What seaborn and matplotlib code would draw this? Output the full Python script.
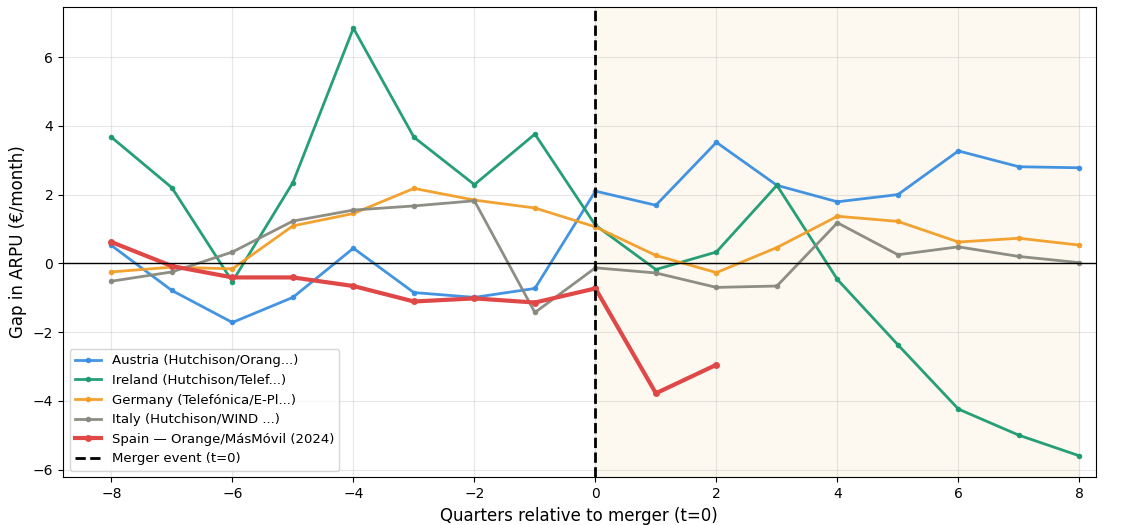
import matplotlib
matplotlib.use("Agg")
import matplotlib.pyplot as plt
import seaborn as sns
import pandas as pd

quarters = list(range(-8, 9))
austria = [0.52, -0.79, -1.72, -0.99, 0.44, -0.85, -0.99, -0.73, 2.1, 1.69, 3.52, 2.27, 1.79, 2.0, 3.27, 2.81, 2.78]
ireland = [3.67, 2.2, -0.53, 2.35, 6.84, 3.67, 2.29, 3.76, 1.11, -0.18, 0.33, 2.27, -0.47, -2.37, -4.24, -5.0, -5.6]
germany = [-0.25, -0.11, -0.16, 1.09, 1.45, 2.18, 1.84, 1.61, 1.06, 0.23, -0.27, 0.46, 1.37, 1.22, 0.62, 0.73, 0.53]
italy = [-0.52, -0.25, 0.33, 1.23, 1.55, 1.67, 1.82, -1.43, -0.13, -0.28, -0.7, -0.66, 1.18, 0.25, 0.48, 0.2, 0.02]
spain_q = list(range(-8, 3))
spain = [0.62, -0.08, -0.41, -0.41, -0.66, -1.11, -1.02, -1.14, -0.73, -3.78, -2.95]

labels = ["Austria (Hutchison/Orang...)", "Ireland (Hutchison/Telef...)",
          "Germany (Telefónica/E-Pl...)", "Italy (Hutchison/WIND ...)"]
colors = ["#3a8ee0", "#1a9a70", "#f29d26", "#88887f"]

fig, ax = plt.subplots(figsize=(11.25, 5.25), dpi=100)
fig.subplots_adjust(left=0.056, right=0.974, top=0.987, bottom=0.091)

ax.axvspan(0, 8, color="#fdf5e6", alpha=0.6, zorder=0)

for vals, lab, c in zip([austria, ireland, germany, italy], labels, colors):
    df = pd.DataFrame({"q": quarters, "gap": vals})
    sns.lineplot(data=df, x="q", y="gap", ax=ax, color=c, linewidth=2,
                 marker="o", markersize=4, markeredgewidth=0, label=lab, alpha=0.95)

sdf = pd.DataFrame({"q": spain_q, "gap": spain})
sns.lineplot(data=sdf, x="q", y="gap", ax=ax, color="#e04848", linewidth=3,
             marker="o", markersize=5, markeredgewidth=0,
             label="Spain — Orange/MásMóvil (2024)")

ax.axvline(0, color="black", linestyle="--", linewidth=2, label="Merger event (t=0)")
ax.axhline(0, color="black", linewidth=1)

ax.grid(True, alpha=0.3)
ax.set_xlim(-8.8, 8.27)
ax.set_xlabel("Quarters relative to merger (t=0)", fontsize=12)
ax.set_ylabel("Gap in ARPU (€/month)", fontsize=12)
ax.legend(loc="lower left", fontsize=9.5)

plt.savefig("out.png", dpi=100)
